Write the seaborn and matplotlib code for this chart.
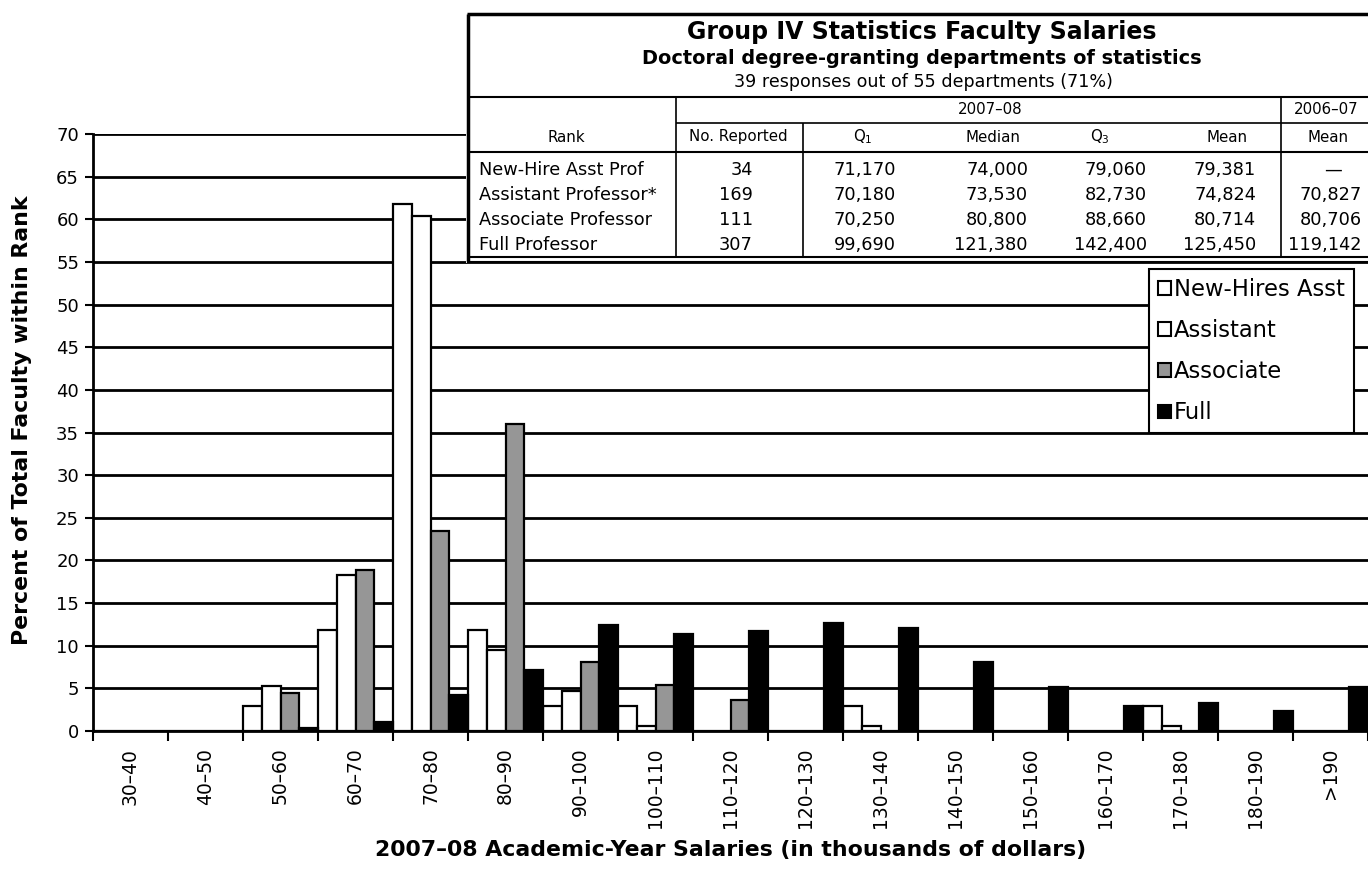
import pandas as pd
import seaborn as sns
import matplotlib.pyplot as plt
from matplotlib.patches import Patch

ranges = ["30–40", "40–50", "50–60", "60–70", "70–80", "80–90", "90–100", "100–110",
          "110–120", "120–130", "130–140", "140–150", "150–160", "160–170", "170–180",
          "180–190", ">190"]
ranks = ["New-Hires Asst", "Assistant", "Associate", "Full"]
new_hire = [0, 0, 2.9, 11.8, 61.8, 11.8, 2.9, 2.9, 0, 0, 2.9, 0, 0, 0, 2.9, 0, 0]
assistant = [0, 0, 5.3, 18.3, 60.4, 9.5, 4.7, 0.6, 0, 0, 0.6, 0, 0, 0, 0.6, 0, 0]
associate = [0, 0, 4.5, 18.9, 23.4, 36.0, 8.1, 5.4, 3.6, 0, 0, 0, 0, 0, 0, 0, 0]
full = [0, 0, 0.3, 1.0, 4.2, 7.2, 12.4, 11.4, 11.7, 12.7, 12.1, 8.1, 5.2, 2.9, 3.3, 2.3, 5.2]

# table values
tab_rows = ["New-Hire Asst Prof", "Assistant Professor*", "Associate Professor", "Full Professor"]
tab_n = ["34", "169", "111", "307"]
tab_q1 = ["71,170", "70,180", "70,250", "99,690"]
tab_med = ["74,000", "73,530", "80,800", "121,380"]
tab_q3 = ["79,060", "82,730", "88,660", "142,400"]
tab_mean = ["79,381", "74,824", "80,714", "125,450"]
tab_prev = ["—", "70,827", "80,706", "119,142"]

colors = ["white", "white", "#969696", "black"]

df = pd.DataFrame({
    "range": ranges * 4,
    "rank": [r for r in ranks for _ in ranges],
    "pct": new_hire + assistant + associate + full,
})

sns.set_style("white")
plt.rcParams["font.family"] = ["DejaVu Sans"]
plt.rcParams["text.color"] = "black"
plt.rcParams["axes.labelcolor"] = "black"
plt.rcParams["xtick.color"] = "black"
plt.rcParams["ytick.color"] = "black"

fig = plt.figure(figsize=(13.68, 8.73), dpi=100)
ax = fig.add_axes([93 / 1368, 1 - 731 / 873, (1368 - 93) / 1368, (731 - 134) / 873])

sns.barplot(data=df, x="range", y="pct", hue="rank", palette=colors, width=1.0,
            edgecolor="black", linewidth=1.6, saturation=1, legend=False, ax=ax, zorder=3)

ax.set_ylim(0, 70)
ax.set_xlim(-0.5, -0.5 + 1275 / 75.5)
ax.set_yticks(range(0, 71, 5))
for y in range(5, 71, 5):
    ax.axhline(y, color="black", lw=2, zorder=1)
ax.tick_params(axis="y", direction="out", length=6, width=1.5, labelsize=13, left=True, pad=4)
ax.set_xticks(range(len(ranges)))
ax.set_xticklabels(ranges, rotation=90, fontsize=13.5)
ax.set_xticks([i - 0.5 for i in range(len(ranges) + 1)], minor=True)
ax.tick_params(axis="x", which="major", length=0, pad=12)
ax.tick_params(axis="x", which="minor", direction="out", length=7, width=1.5, bottom=True)
for s in ["top", "right"]:
    ax.spines[s].set_visible(False)
for s in ["left", "bottom"]:
    ax.spines[s].set_color("black")
    ax.spines[s].set_linewidth(2)
ax.set_ylabel("Percent of Total Faculty within Rank", fontsize=15.8, fontweight="bold")
ax.set_xlabel("2007–08 Academic-Year Salaries (in thousands of dollars)", fontsize=15.8,
              fontweight="bold")
ax.yaxis.set_label_coords((22 - 93) / 1275, 0.52)
ax.xaxis.set_label_coords(0.5, (731 - 850) / 597)
ax.xaxis.label.set_va("center")
ax.yaxis.label.set_va("center")

handles = [Patch(facecolor=c, edgecolor="black", linewidth=1.5) for c in colors]
leg = ax.legend(handles, ranks, loc="upper left",
                bbox_to_anchor=((1149 - 93) / 1275, (731 - 269) / 597),
                fontsize=16.3, frameon=True, fancybox=False, edgecolor="black", framealpha=1,
                handlelength=0.55, handleheight=0.55, handletextpad=0.15, labelspacing=0.8,
                borderpad=0.4, borderaxespad=0)
leg.get_frame().set_linewidth(1.5)
leg.set_zorder(5)

# table drawn in pixel coordinates on its own white panel
tb = fig.add_axes([466 / 1368, 1 - 263 / 873, (1368 - 466) / 1368, (263 - 12) / 873])
tb.set_xlim(466, 1368)
tb.set_ylim(263, 12)
tb.set_xticks([])
tb.set_yticks([])
for s in tb.spines.values():
    s.set_visible(False)
tb.set_facecolor("white")
tb.set_zorder(6)
lk = dict(color="black", solid_capstyle="butt")
tb.plot([467, 1368], [14, 14], lw=2.5, **lk)
tb.plot([467.5, 467.5], [14, 262], lw=2.5, **lk)
tb.plot([467, 1368], [97, 97], lw=1.5, **lk)
tb.plot([676, 1368], [123, 123], lw=1.2, **lk)
tb.plot([467, 1368], [151.5, 151.5], lw=1.5, **lk)
tb.plot([467, 1368], [257, 257], lw=1.5, **lk)
tb.plot([467, 1368], [261.5, 261.5], lw=1.5, **lk)
tb.plot([676, 676], [97, 257], lw=1.2, **lk)
tb.plot([1281, 1281], [97, 257], lw=1.2, **lk)
tb.plot([803, 803], [123, 257], lw=1.2, **lk)

tb.text(922, 32, "Group IV Statistics Faculty Salaries", ha="center", va="center",
        fontsize=17, fontweight="bold")
tb.text(922, 59, "Doctoral degree-granting departments of statistics", ha="center",
        va="center", fontsize=13.9, fontweight="bold")
tb.text(923, 82, "39 responses out of 55 departments (71%)", ha="center", va="center",
        fontsize=12.6)
tb.text(990, 110, "2007–08", ha="center", va="center", fontsize=10.8)
tb.text(1326, 110, "2006–07", ha="center", va="center", fontsize=10.8)
hdr = [(566, "Rank"), (738, "No. Reported"), (863, "Q$_1$"), (993, "Median"),
       (1100, "Q$_3$"), (1227, "Mean"), (1328, "Mean")]
for x, t in hdr:
    tb.text(x, 137, t, ha="center", va="center", fontsize=10.8)
row_y = [170, 195, 220, 245]
for i, y in enumerate(row_y):
    tb.text(479, y, tab_rows[i], ha="left", va="center", fontsize=12.8)
    tb.text(753, y, tab_n[i], ha="right", va="center", fontsize=12.8)
    tb.text(896, y, tab_q1[i], ha="right", va="center", fontsize=12.8)
    tb.text(1028, y, tab_med[i], ha="right", va="center", fontsize=12.8)
    tb.text(1147, y, tab_q3[i], ha="right", va="center", fontsize=12.8)
    tb.text(1256, y, tab_mean[i], ha="right", va="center", fontsize=12.8)
    if tab_prev[i] == "—":
        tb.text(1333, y, tab_prev[i], ha="center", va="center", fontsize=12.8)
    else:
        tb.text(1362, y, tab_prev[i], ha="right", va="center", fontsize=12.8)

fig.savefig("out.png", dpi=100)
